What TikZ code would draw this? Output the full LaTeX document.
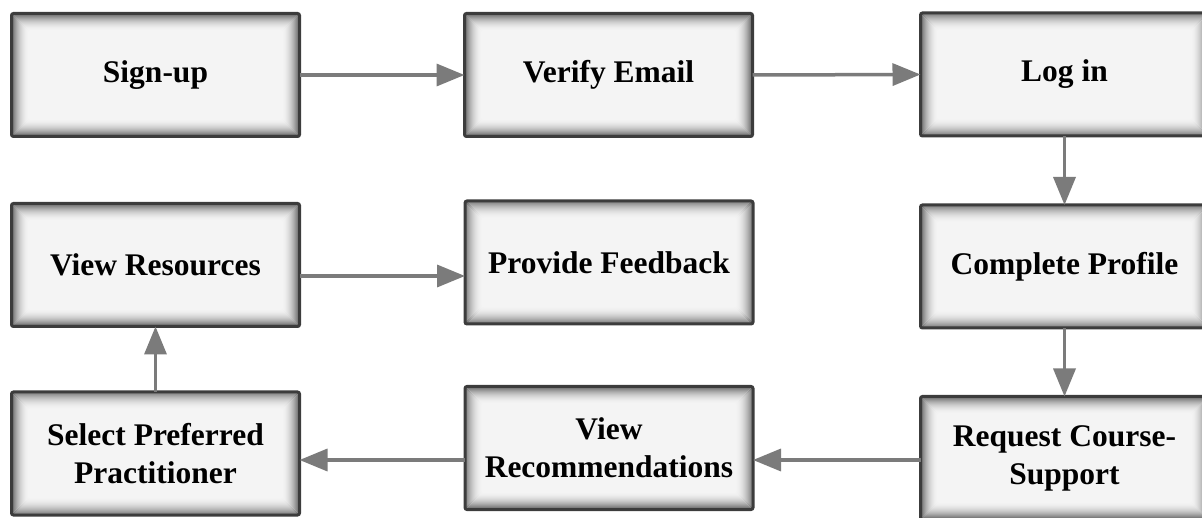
\documentclass[tikz,border=0pt]{standalone}
\usepackage{fontspec}
\setmainfont{Liberation Serif}
\usetikzlibrary{arrows.meta}
\definecolor{boxfill}{HTML}{F4F4F4}
\definecolor{boxedge}{HTML}{3C3C3C}
\definecolor{flow}{HTML}{7B7B7B}
\tikzset{
  stepbox/.style={
    rectangle, rounded corners=2pt, draw=boxedge, line width=3pt,
    fill=boxfill, minimum width=288pt, minimum height=123pt,
    outer sep=0pt, align=center, text=black,
    font=\fontsize{31.5}{38}\selectfont\bfseries,
    path picture={
      % soft inner shadow along the edges
      \foreach \i in {0,...,17}{
        \pgfmathsetmacro{\k}{62*(1-\i/18)^2}
        \draw[line width=1.3pt, draw=black!\k!boxfill]
          ([shift={(\i pt,\i pt)}]path picture bounding box.south west)
          rectangle
          ([shift={(-\i pt,-\i pt)}]path picture bounding box.north east);
      }
    }
  },
  flowarrow/.style={
    draw=flow, line width=3.5pt,
    -{Triangle[length=28pt,width=22pt]}
  }
}
\begin{document}
\begin{tikzpicture}[x=1pt,y=-1pt]
  \useasboundingbox (0,0) rectangle (1202,518);
  \begin{scope}
    \clip (0,0) rectangle (1202,518);

    % first row
    \node[stepbox] (signup) at (155.5,75)   {Sign-up};
    \node[stepbox] (verify) at (608.5,75)   {Verify Email};
    \node[stepbox] (login)  at (1064.5,74.5) {Log in};

    % second row
    \node[stepbox] (res)    at (155.5,265)  {View Resources};
    \node[stepbox] (fb)     at (609,262.5)  {Provide Feedback};
    \node[stepbox] (prof)   at (1064.5,266.5) {Complete Profile};

    % third row
    \node[stepbox] (sel)    at (155.5,453.5) {Select Preferred\\Practitioner};
    \node[stepbox] (rec)    at (609,448)    {View\\Recommendations};
    \node[stepbox] (req)    at (1064.5,458) {Request Course-\\Support};

    % connectors
    \draw[flowarrow] (signup.east) -- (verify.west);
    \draw[flowarrow] (verify.east) -- (login.west);
    \draw[flowarrow] (login.south) -- (prof.north);
    \draw[flowarrow] (prof.south) -- (req.north);
    \draw[flowarrow] ([yshift=-2pt]req.west) -- ([yshift=-2pt]req.west -| rec.east);
    \draw[flowarrow] ([yshift=-2pt]req.west -| rec.west) -- ([yshift=-2pt]req.west -| sel.east);
    \draw[flowarrow] (sel.north) -- (res.south);
    \draw[flowarrow] ([yshift=-11pt]res.east) -- ([yshift=-11pt]res.east -| fb.west);
  \end{scope}
\end{tikzpicture}
\end{document}
